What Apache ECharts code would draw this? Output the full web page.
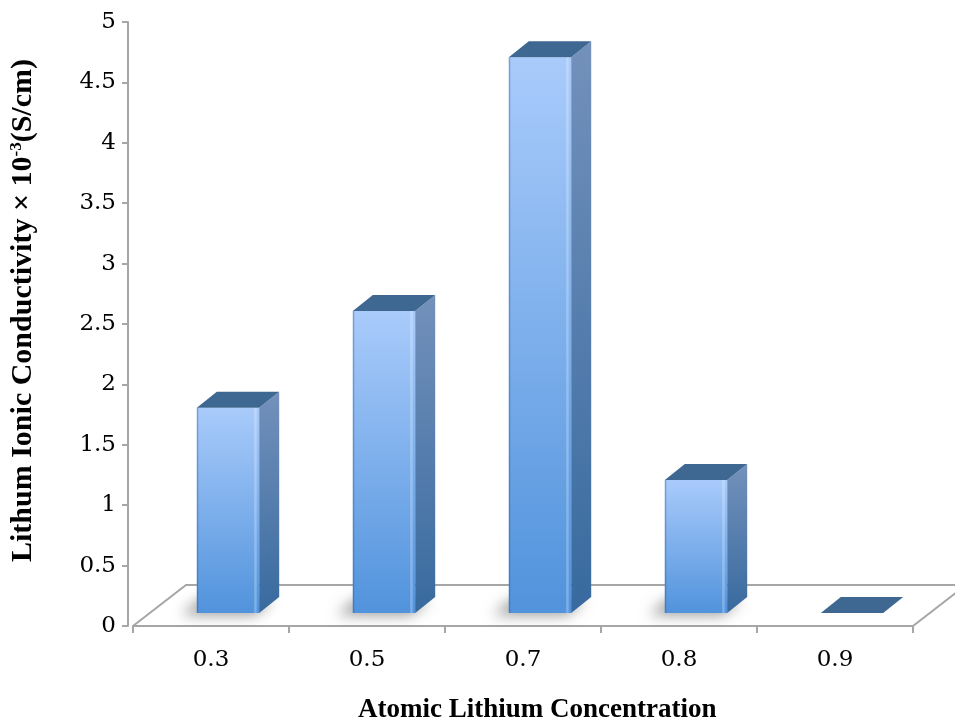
<!DOCTYPE html>
<html>
<head>
<meta charset="utf-8">
<script src="https://cdn.jsdelivr.net/npm/echarts@6/dist/echarts.min.js"></script>
<style>
  html, body { margin: 0; padding: 0; background: #ffffff; }
  #chart { width: 955px; height: 724px; }
</style>
</head>
<body>
<div id="chart"></div>
<script>
// Lithium ionic conductivity by atomic lithium concentration
const categories = ['0.3', '0.5', '0.7', '0.8', '0.9'];
const conductivity = [1.7, 2.5, 4.6, 1.1, 0];
const yMin = 0;
const yMax = 5;
const yStep = 0.5;

// oblique projection used for the pseudo-3D floor and columns
const FLOOR_DX = 53, FLOOR_DY = -41;   // floor depth
const BAR_SX = 17, BAR_SY = -13;       // column front set back into the floor
const BAR_DX = 20, BAR_DY = -16;       // column depth
const BAR_FRAC = 0.4;                  // column width / category band

const chart = echarts.init(document.getElementById('chart'), null, { renderer: 'canvas' });

function renderFloor(params, api) {
  const bw = api.size([1, 0])[0];
  const first = api.coord([0, 0]);
  const last = api.coord([categories.length - 1, 0]);
  const xl = first[0] - bw / 2;
  const xr = last[0] + bw / 2;
  const y0 = first[1];
  return {
    type: 'polyline',
    shape: {
      points: [
        [xl, y0],
        [xl + FLOOR_DX, y0 + FLOOR_DY],
        [xr + FLOOR_DX, y0 + FLOOR_DY],
        [xr, y0]
      ]
    },
    style: { stroke: '#a6a6a6', lineWidth: 2, fill: null }
  };
}

function renderColumn(params, api) {
  const idx = api.value(0);
  const val = api.value(1);
  const top = api.coord([idx, val]);
  const base = api.coord([idx, 0]);
  const bw = api.size([1, 0])[0];
  const w = bw * BAR_FRAC;
  const x0 = base[0] - w / 2 + BAR_SX;
  const x1 = x0 + w;
  const yb = base[1] + BAR_SY;
  const yt = top[1] + BAR_SY;
  const h = yb - yt;
  const children = [];

  if (h > 0.5) {
    // soft shadow cast on the floor
    const off = 3000;
    children.push({
      type: 'polygon',
      shape: {
        points: [
          [x0 - 16 - off, yb + 2],
          [x1 - 4 - off, yb + 2],
          [x1 + BAR_DX - 6 - off, yb + BAR_DY + 2],
          [x0 + BAR_DX - 16 - off, yb + BAR_DY + 2]
        ]
      },
      style: {
        fill: '#000',
        shadowBlur: 14,
        shadowColor: 'rgba(0,0,0,0.4)',
        shadowOffsetX: off,
        shadowOffsetY: 0
      }
    });
    // front face
    children.push({
      type: 'rect',
      shape: { x: x0, y: yt, width: w, height: h },
      style: {
        fill: new echarts.graphic.LinearGradient(0, 0, 0, 1, [
          { offset: 0, color: '#a9cbfb' },
          { offset: 1, color: '#5193dc' }
        ])
      }
    });
    // subtle edge shading on the front face
    children.push({
      type: 'rect',
      shape: { x: x0, y: yt, width: 1.5, height: h },
      style: { fill: 'rgba(40,80,140,0.35)' }
    });
    children.push({
      type: 'rect',
      shape: { x: x1 - 5, y: yt, width: 2.5, height: h },
      style: { fill: 'rgba(255,255,255,0.25)' }
    });
    // side face
    children.push({
      type: 'polygon',
      shape: {
        points: [[x1, yt], [x1 + BAR_DX, yt + BAR_DY], [x1 + BAR_DX, yb + BAR_DY], [x1, yb]]
      },
      style: {
        fill: new echarts.graphic.LinearGradient(0, 0, 0, 1, [
          { offset: 0, color: '#7391bb' },
          { offset: 1, color: '#386a9f' }
        ])
      }
    });
  }
  // top face
  children.push({
    type: 'polygon',
    shape: {
      points: [[x0, yt], [x0 + BAR_DX, yt + BAR_DY], [x1 + BAR_DX, yt + BAR_DY], [x1, yt]]
    },
    style: { fill: '#3e6792' }
  });
  return { type: 'group', children: children };
}

const option = {
  backgroundColor: '#ffffff',
  animation: false,
  grid: { left: 133, right: 42, top: 22, bottom: 98, containLabel: false },
  xAxis: {
    type: 'category',
    data: categories,
    boundaryGap: true,
    axisLine: { show: true, lineStyle: { color: '#a6a6a6', width: 2 } },
    axisTick: { show: true, length: 7, lineStyle: { color: '#a6a6a6', width: 2 } },
    axisLabel: {
      margin: 23,
      fontFamily: 'DejaVu Serif',
      fontSize: 23,
      color: '#000'
    },
    splitLine: { show: false }
  },
  yAxis: {
    type: 'value',
    min: yMin,
    max: yMax,
    interval: yStep,
    offset: 5,
    axisLine: { show: true, lineStyle: { color: '#a6a6a6', width: 2 } },
    axisTick: { show: true, length: 6, lineStyle: { color: '#a6a6a6', width: 2 } },
    axisLabel: {
      margin: 12,
      fontFamily: 'DejaVu Serif',
      fontSize: 23,
      color: '#000'
    },
    splitLine: { show: false }
  },
  graphic: [
    {
      type: 'text',
      left: 358,
      top: 697,
      style: {
        text: 'Atomic Lithium Concentration',
        fontFamily: 'Liberation Serif',
        fontWeight: 'bold',
        fontSize: 27,
        fill: '#000'
      }
    },
    {
      type: 'text',
      x: 8,
      y: 562,
      rotation: Math.PI / 2,
      style: {
        text: '{a|Lithum Ionic Conductivity × 10}{s|-3}{a|(S/cm)}',
        rich: {
          a: { fontFamily: 'Liberation Serif', fontWeight: 'bold', fontSize: 30, fill: '#000' },
          s: { fontFamily: 'Liberation Serif', fontWeight: 'bold', fontSize: 17, fill: '#000', verticalAlign: 'top', padding: [0, 0, 12, 0] }
        },
        verticalAlign: 'top'
      }
    }
  ],
  series: [
    {
      type: 'custom',
      name: 'floor',
      silent: true,
      z: 1,
      renderItem: renderFloor,
      data: [[0, 0]],
      encode: { x: 0, y: 1 }
    },
    {
      type: 'custom',
      name: 'Lithium ionic conductivity',
      z: 2,
      renderItem: renderColumn,
      data: conductivity.map(function (v, i) { return [i, v]; }),
      encode: { x: 0, y: 1 }
    }
  ]
};

chart.setOption(option);
</script>
</body>
</html>
